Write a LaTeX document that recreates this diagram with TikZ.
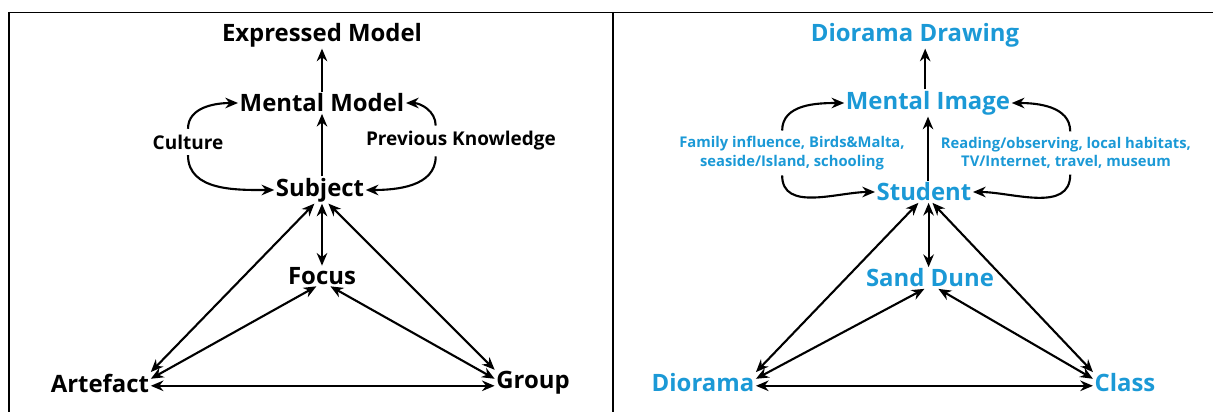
\documentclass[tikz,border=0pt]{standalone}
\usepackage{fontspec}
\setmainfont{Open Sans}
\usepackage{xcolor}
\usepackage{tikz}
\usetikzlibrary{arrows.meta}
\definecolor{diablue}{RGB}{27,153,214}

\begin{document}
\begin{tikzpicture}[x=0.025cm, y=0.025cm, >={Stealth[length=9pt, width=7.5pt]},
    big/.style={inner sep=1pt, font=\fontsize{17}{20}\selectfont\bfseries},
    side/.style={inner sep=1pt, font=\fontsize{13.5}{15}\selectfont\bfseries},
    note/.style={inner sep=1pt, align=center, font=\fontsize{10.5}{13}\selectfont\bfseries},
    arr/.style={line width=1.5pt}]
    \useasboundingbox (0,0) rectangle (1213,-412);
    % table lines
    \draw[line width=0.7pt] (8,-12) -- (1213,-12);
    \draw[line width=1.3pt] (9,-12) -- (9,-412);
    \draw[line width=1.3pt] (613,-12) -- (613,-412);

    % left: general model
    \node[big] (exp) at (322,-35) {Expressed Model};
    \node[big] (mm) at (322,-103) {Mental Model};
    \node[side] (cult) at (188,-142) {Culture};
    \node[side] (prev) at (461,-141) {Previous Knowledge};
    \node[big] (subj) at (320,-190) {Subject};
    \node[big] (foc) at (322,-276) {Focus};
    \node[big] (art) at (100,-383) {Artefact};
    \node[big] (grp) at (533,-383) {Group};

    \draw[arr, ->] (mm.north) -- (exp.south);
    \draw[arr, ->] (subj.north -| mm.south) -- (mm.south);
    \draw[arr, ->] ([yshift=3pt]cult.north) to[out=90, in=180] (mm.west);
    \draw[arr, ->] ([yshift=-3pt]cult.south) to[out=-90, in=180] (subj.west);
    \draw[arr, ->] ([xshift=-18pt, yshift=3pt]prev.north) to[out=90, in=0] (mm.east);
    \draw[arr, ->] ([xshift=-18pt, yshift=-3pt]prev.south) to[out=-90, in=0] (subj.east);
    \draw[arr, <->] (subj.south -| foc.north) -- (foc.north);
    \draw[arr, <->] ([xshift=-4pt]subj.south) -- (art.north east);
    \draw[arr, <->] ([xshift=6pt]subj.south) -- (grp.north west);
    \draw[arr, <->] ([xshift=-4pt]foc.south) -- ([yshift=3pt]art.east);
    \draw[arr, <->] ([xshift=6pt]foc.south) -- ([yshift=3pt]grp.west);
    \draw[arr, <->] ([yshift=-2pt]art.east) -- ([yshift=-2pt]grp.west);

    % right: the sand dune study
    \begin{scope}[every node/.append style={text=diablue}]
    \node[big] (draw) at (915,-35) {Diorama Drawing};
    \node[big] (img) at (928,-103) {Mental Image};
    \node[note] (fam) at (792,-153) {Family influence, Birds\&Malta,\\seaside/Island, schooling};
    \node[note] (read) at (1066,-153) {Reading/observing, local habitats,\\TV/Internet, travel, museum};
    \node[big] (stud) at (924,-192) {Student};
    \node[big] (dune) at (930,-278) {Sand Dune};
    \node[big] (dio) at (703,-383) {Diorama};
    \node[big] (cls) at (1125,-383) {Class};
    \end{scope}

    \draw[arr, ->] ([xshift=-2pt]img.north) -- ([xshift=-2pt]img.north |- draw.south);
    \draw[arr, ->] (stud.north -| img.south) -- (img.south);
    \draw[arr, ->] ([xshift=-7pt, yshift=3pt]fam.north) to[out=90, in=180] (img.west);
    \draw[arr, ->] ([xshift=-7pt, yshift=-3pt]fam.south) to[out=-90, in=180] (stud.west);
    \draw[arr, ->] ([xshift=3pt, yshift=3pt]read.north) to[out=90, in=0] (img.east);
    \draw[arr, ->] ([xshift=3pt, yshift=-3pt]read.south) to[out=-90, in=0] (stud.east);
    \draw[arr, <->] ([xshift=-1pt]stud.south -| dune.north) -- ([xshift=-1pt]dune.north);
    \draw[arr, <->] ([xshift=-4pt]stud.south) -- (dio.north east);
    \draw[arr, <->] ([xshift=6pt]stud.south) -- (cls.north west);
    \draw[arr, <->] ([xshift=-4pt]dune.south) -- ([yshift=3pt]dio.east);
    \draw[arr, <->] ([xshift=6pt]dune.south) -- ([yshift=3pt]cls.west);
    \draw[arr, <->] ([yshift=-2pt]dio.east) -- ([yshift=-2pt]cls.west);
\end{tikzpicture}
\end{document}
